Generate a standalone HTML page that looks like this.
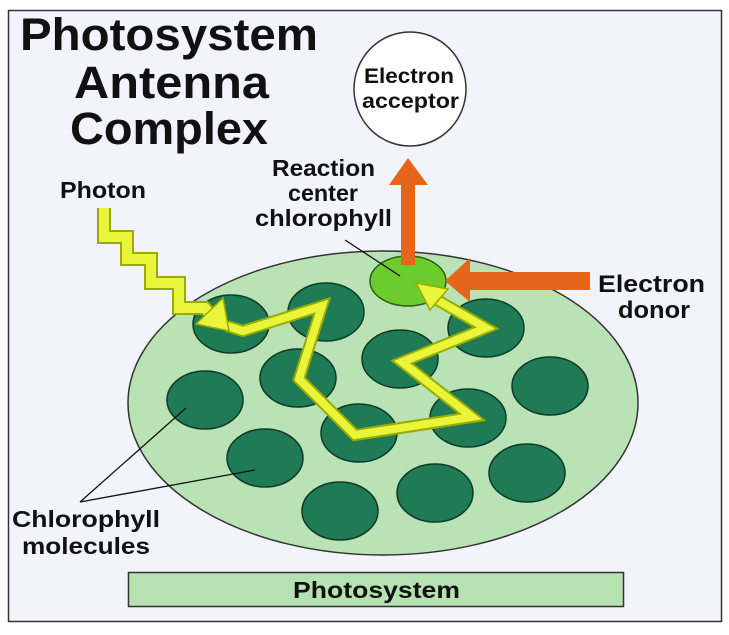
<!DOCTYPE html>
<html><head><style>
body{margin:0;background:#fff;}
svg{display:block;}
text{font-family:"Liberation Sans",sans-serif;font-weight:bold;fill:#111;}
</style></head><body>
<svg width="729" height="635" viewBox="0 0 729 635" xmlns="http://www.w3.org/2000/svg">
<rect x="0" y="0" width="729" height="635" fill="#fff"/>
<rect x="8.5" y="10.5" width="713" height="611" fill="#f3f3fb" stroke="#333" stroke-width="1.5"/>
<text x="20" y="50" font-size="45" textLength="298" lengthAdjust="spacingAndGlyphs">Photosystem</text>
<text x="74" y="98" font-size="45" textLength="195" lengthAdjust="spacingAndGlyphs">Antenna</text>
<text x="70" y="144" font-size="45" textLength="198" lengthAdjust="spacingAndGlyphs">Complex</text>
<ellipse cx="410" cy="89" rx="56" ry="57" fill="#fff" stroke="#333" stroke-width="1.5"/>
<text x="364" y="83" font-size="21" textLength="90" lengthAdjust="spacingAndGlyphs">Electron</text>
<text x="362" y="108" font-size="21" textLength="97" lengthAdjust="spacingAndGlyphs">acceptor</text>
<text x="60" y="198" font-size="23" textLength="86" lengthAdjust="spacingAndGlyphs">Photon</text>
<text x="272" y="176" font-size="23" textLength="103" lengthAdjust="spacingAndGlyphs">Reaction</text>
<text x="288" y="201" font-size="23" textLength="70" lengthAdjust="spacingAndGlyphs">center</text>
<text x="255" y="226" font-size="23" textLength="137" lengthAdjust="spacingAndGlyphs">chlorophyll</text>
<text x="598" y="292" font-size="24" textLength="107" lengthAdjust="spacingAndGlyphs">Electron</text>
<text x="618" y="318" font-size="24" textLength="72" lengthAdjust="spacingAndGlyphs">donor</text>
<text x="12" y="527" font-size="23" textLength="148" lengthAdjust="spacingAndGlyphs">Chlorophyll</text>
<text x="22" y="554" font-size="23" textLength="128" lengthAdjust="spacingAndGlyphs">molecules</text>
<ellipse cx="383" cy="403" rx="255" ry="152" fill="#b9e3b4" stroke="#333" stroke-width="1.5"/>
<g fill="#1f7a56" stroke="#0f3a28" stroke-width="1.5">
<ellipse cx="231" cy="324" rx="38" ry="29"/>
<ellipse cx="326" cy="312" rx="38" ry="29"/>
<ellipse cx="298" cy="378" rx="38" ry="29"/>
<ellipse cx="400" cy="359" rx="38" ry="29"/>
<ellipse cx="486" cy="328" rx="38" ry="29"/>
<ellipse cx="205" cy="400" rx="38" ry="29"/>
<ellipse cx="550" cy="386" rx="38" ry="29"/>
<ellipse cx="265" cy="458" rx="38" ry="29"/>
<ellipse cx="359" cy="433" rx="38" ry="29"/>
<ellipse cx="468" cy="418" rx="38" ry="29"/>
<ellipse cx="527" cy="473" rx="38" ry="29"/>
<ellipse cx="435" cy="493" rx="38" ry="29"/>
<ellipse cx="340" cy="511" rx="38" ry="29"/>
</g>
<ellipse cx="408" cy="281" rx="38" ry="25" fill="#6ccc2c" stroke="#2f5e12" stroke-width="1.5"/>
<g stroke="#111" stroke-width="1.3" fill="none">
<line x1="345" y1="240" x2="400" y2="276"/>
<line x1="80" y1="502" x2="186" y2="408"/>
<line x1="80" y1="502" x2="255" y2="470"/>
</g>
<polyline points="227,326 243,331 322,306 299,379 355,435 472,417 402,362 486,328 432,297" fill="none" stroke="#9aab00" stroke-width="12" stroke-linejoin="miter"/>
<polyline points="227,326 243,331 322,306 299,379 355,435 472,417 402,362 486,328 432,297" fill="none" stroke="#e9f53a" stroke-width="8" stroke-linejoin="miter"/>
<polygon points="416,283 448,289 430,310" fill="#e9f53a" stroke="#9aab00" stroke-width="1.5"/>
<polyline points="104,208 104,237 127,237 127,259 151,259 151,283 179,283 179,308 205,308 212,316" fill="none" stroke="#9aab00" stroke-width="14"/>
<polyline points="104,208 104,237 127,237 127,259 151,259 151,283 179,283 179,308 205,308 212,316" fill="none" stroke="#e9f53a" stroke-width="10"/>
<polygon points="229,331 196,324 223,298" fill="#e9f53a" stroke="#9aab00" stroke-width="1.5"/>
<polygon points="401,265 401,185 389,185 408,158 428,185 415,185 415,265" fill="#e5661a"/>
<polygon points="590,272 470,272 470,258 445,281 470,302 470,290 590,290" fill="#e5661a"/>
<rect x="128.5" y="572.5" width="495" height="34" fill="#b5e2b0" stroke="#333" stroke-width="1.5"/>
<text x="293" y="598" font-size="23" textLength="167" lengthAdjust="spacingAndGlyphs">Photosystem</text>
</svg>
</body></html>
